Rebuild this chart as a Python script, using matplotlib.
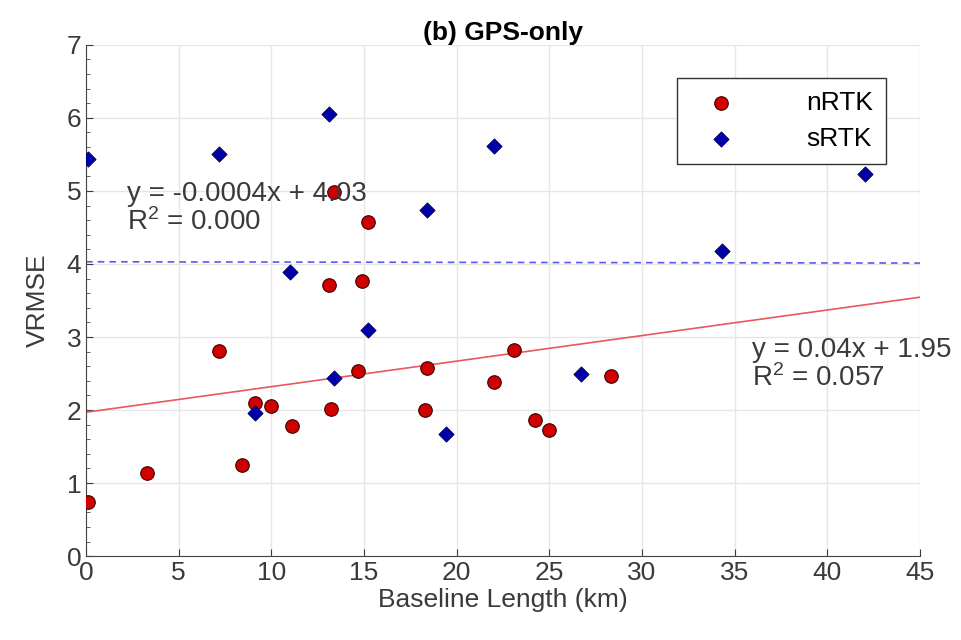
import matplotlib.pyplot as plt
import numpy as np
from matplotlib.ticker import MultipleLocator

plt.rcParams["font.family"] = ["Liberation Sans", "DejaVu Sans"]

# baseline length (km) and VRMSE
nrtk_x = [0.1, 3.3, 8.4, 7.2, 9.1, 10.0, 11.1, 13.2, 13.1, 14.9, 14.7,
          18.4, 18.3, 22.0, 23.1, 24.2, 25.0, 28.3, 13.4, 15.2]
nrtk_y = [0.74, 1.14, 1.25, 2.81, 2.10, 2.05, 1.78, 2.02, 3.71, 3.77, 2.54,
          2.57, 2.00, 2.38, 2.82, 1.87, 1.73, 2.47, 4.98, 4.57]

srtk_x = [0.1, 7.2, 13.1, 22.0, 18.4, 11.0, 34.3, 42.0, 15.2, 13.4, 9.1,
          19.4, 26.7]
srtk_y = [5.44, 5.50, 6.05, 5.61, 4.74, 3.89, 4.18, 5.23, 3.09, 2.44, 1.96,
          1.67, 2.49]

# fitted trend lines (slope, intercept)
nrtk_fit = (0.035, 1.97)
srtk_fit = (-0.0004, 4.03)

fig = plt.figure(figsize=(9.61, 6.40), dpi=100)
ax = fig.add_axes([0.0895, 0.131, 0.868, 0.799])

xs = np.array([0, 45])
ax.plot(xs, nrtk_fit[0] * xs + nrtk_fit[1], color="#e8585c", lw=1.2, zorder=2)
ax.plot(xs, srtk_fit[0] * xs + srtk_fit[1], color="#5a5af0", lw=1.2,
        ls=(0, (4, 3)), zorder=2)

ax.scatter(nrtk_x, nrtk_y, s=95, marker="o", color="#d00000",
           edgecolors="#3a0000", linewidths=0.8, label="nRTK", zorder=3)
ax.scatter(srtk_x, srtk_y, s=60, marker="D", color="#0000a8",
           edgecolors="#000050", linewidths=0.6, label="sRTK", zorder=3)

ax.text(2.2, 5.13, "y = -0.0004x + 4.03\n$\\mathregular{R^2}$ = 0.000",
        fontsize=20, color="#3a3a3a", va="top", linespacing=1.05)
ax.text(35.95, 3.0, "y = 0.04x + 1.95\n$\\mathregular{R^2}$ = 0.057",
        fontsize=20, color="#3a3a3a", va="top", linespacing=1.05)

ax.set_xlim(0, 45)
ax.set_ylim(0, 7)
ax.xaxis.set_major_locator(MultipleLocator(5))
ax.yaxis.set_major_locator(MultipleLocator(1))
ax.yaxis.set_minor_locator(MultipleLocator(0.2))
ax.grid(True, color="#e6e6e6", lw=1.0)
ax.set_axisbelow(True)
for side in ["top", "right"]:
    ax.spines[side].set_visible(False)
for side in ["left", "bottom"]:
    ax.spines[side].set_color("#444444")
ax.tick_params(labelsize=19, colors="#3a3a3a", length=5, direction="in")
ax.tick_params(which="minor", length=3, direction="in", color="#444444")

ax.set_xlabel("Baseline Length (km)", fontsize=19, color="#3a3a3a", labelpad=2)
ax.set_ylabel("VRMSE", fontsize=19, color="#3a3a3a", labelpad=12)
ax.set_title("(b) GPS-only", fontsize=19, fontweight="bold", pad=2)

leg = ax.legend(loc="upper right", bbox_to_anchor=(0.959, 0.935), fontsize=19,
                frameon=True, fancybox=False, edgecolor="#333333",
                framealpha=1.0, borderaxespad=0.0,
                handletextpad=2.0, handlelength=2.4, borderpad=0.5,
                labelspacing=0.45, markerscale=1.0)
leg.get_frame().set_linewidth(1.0)

fig.savefig("out.png", dpi=100)
